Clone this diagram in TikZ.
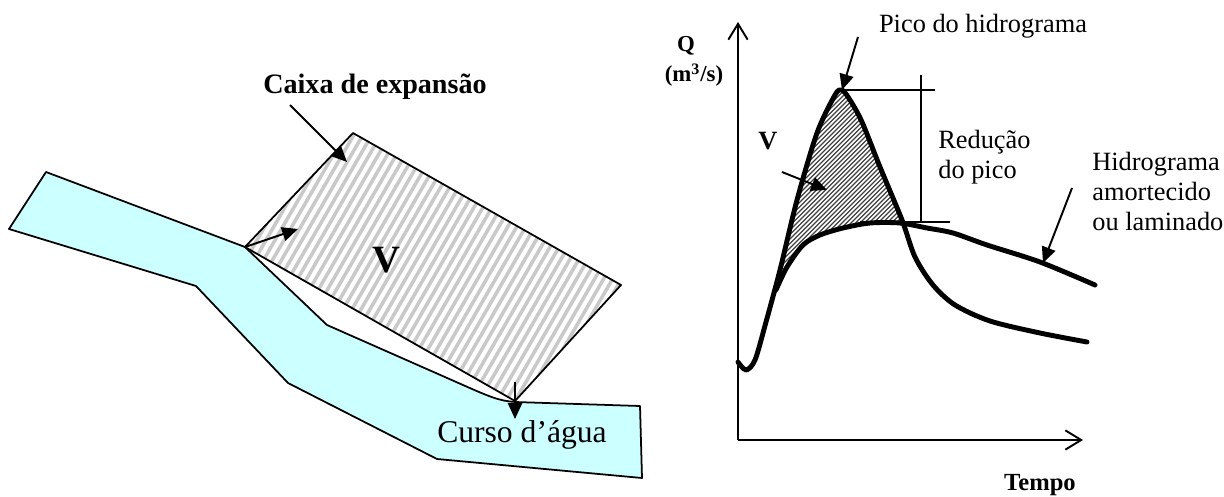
\documentclass[tikz,border=0pt]{standalone}
\usepackage{fontspec}
\setmainfont{Liberation Serif}
\usetikzlibrary{arrows.meta}
\definecolor{agua}{HTML}{CCFFFF}

\begin{document}
\begin{tikzpicture}[
    x=0.02cm, y=-0.02cm,
    texto/.style={font=\fontsize{15}{17}\selectfont, inner sep=0pt},
    negrito/.style={font=\fontsize{15}{17}\selectfont\bfseries, inner sep=0pt},
    contorno/.style={line width=1pt, line join=round},
    seta/.style={line width=1.1pt, -{Triangle[length=9pt,width=8pt]}},
    eixo/.style={line width=1.1pt, -{Straight Barb[length=9pt,width=11pt]}},
    curva/.style={line width=2.8pt, line cap=round, line join=round},
    guia/.style={line width=1.1pt},
    listra/.style={line width=2pt, gray!42},
    traco/.style={line width=0.7pt, black!75}]

  \useasboundingbox (0,0) rectangle (1224,497);

  % ---- curso d'agua --------------------------------------------------------
  \filldraw[contorno, fill=agua] (46,172) -- (245,247) -- (327,325) -- (463,385)
       .. controls (490,397) and (500,401) .. (515,402) -- (640,406)
       -- (642,478) -- (437,459) -- (288,383) -- (196,286) -- (9,229) -- cycle;

  % ---- caixa de expansao, com listras cinzentas ----------------------------
  \coordinate (L) at (245,247);
  \coordinate (T) at (353,133);
  \coordinate (R) at (621,285);
  \coordinate (B) at (515,401);
  \begin{scope}
    \clip (L) -- (T) -- (R) -- (B) -- cycle;
    \foreach \i in {0,9,...,640}
      \draw[listra] (\i,420) -- ++(240,-415);
  \end{scope}
  \draw[contorno] (L) -- (T) -- (R) -- (B) -- cycle;

  \node[negrito, font=\fontsize{16}{18}\selectfont\bfseries, anchor=base]
       (caixa) at (375,93) {Caixa de expansão};
  \coordinate (caixaini) at (290,105);
  \coordinate (caixafim) at (347,162);
  \draw[seta] (caixaini) -- (caixafim);

  \node[negrito, font=\fontsize{22}{24}\selectfont\bfseries] (vcaixa) at (386,260) {V};
  \coordinate (entrada) at (298,229);
  \draw[seta] (L) -- (entrada);

  \coordinate (saidaini) at (515,382);
  \coordinate (saidafim) at (515,419);
  \draw[seta] (saidaini) -- (saidafim);
  \node[texto, font=\fontsize{18}{20}\selectfont, anchor=base]
       (curso) at (522,442) {Curso d’água};

  % ---- eixos do hidrograma -------------------------------------------------
  \coordinate (O)     at (738,440);
  \coordinate (Qtopo) at (738,22);
  \coordinate (Tfim)  at (1083,440);
  \draw[eixo] (O) -- (Qtopo);
  \draw[eixo] (O) -- (Tfim);
  \node[negrito, font=\fontsize{13}{15}\selectfont\bfseries] (Q) at (686,46) {Q};
  \node[negrito, font=\fontsize{13}{15}\selectfont\bfseries]
       (unid) at (694,75) {(m\textsuperscript{3}/s)};
  \node[negrito, font=\fontsize{14}{16}\selectfont\bfseries, anchor=base]
       (tempo) at (1040,490) {Tempo};

  % ---- volume armazenado (tracejado escuro) --------------------------------
  \begin{scope}
    \clip plot[smooth] coordinates {(783,262) (797,200) (817,133) (835,95)
          (842,90) (850,100) (862,122) (880,167) (902,222)}
          -- plot[smooth] coordinates {(900,223) (870,223) (843,228)
          (820,235) (803,245) (787,267)} -- cycle;
    \foreach \i in {630,634.5,...,830}
      \draw[traco] (\i,300) -- ++(220,-220);
  \end{scope}

  % ---- hidrogramas ---------------------------------------------------------
  \draw[curva] plot[smooth] coordinates {(738,362) (746,370) (755,360)
        (766,322) (780,270) (797,200) (817,133) (835,95) (842,90) (850,100)
        (862,122) (880,167) (902,220) (915,257) (933,285) (955,305)
        (990,321) (1040,333) (1087,342)};
  \draw[curva] plot[smooth] coordinates {(776,290) (787,267) (803,245)
        (820,235) (843,228) (870,223) (900,223) (927,228) (953,233)
        (987,245) (1040,262) (1095,285)};

  % ---- reducao do pico -----------------------------------------------------
  \coordinate (pico)    at (842,90);
  \coordinate (picodir) at (935,90);
  \coordinate (redtopo) at (921,75);
  \coordinate (redbase) at (921,222);
  \coordinate (cruzesq) at (860,222);
  \coordinate (cruzdir) at (950,222);
  \draw[guia] (pico) -- (picodir);
  \draw[guia] (redtopo) -- (redbase);
  \draw[guia] (cruzesq) -- (cruzdir);

  % ---- rotulos -------------------------------------------------------------
  \node[texto, anchor=base] (picolbl) at (983,32) {Pico do hidrograma};
  \coordinate (picoini) at (858,37);
  \draw[seta] (picoini) -- (pico);

  \node[texto, anchor=base west, align=left]
       (reducao) at (938,178) {Redução\\do pico};

  \node[negrito] (vhidro) at (768,141) {V};
  \coordinate (vini) at (782,172);
  \coordinate (vfim) at (827,190);
  \draw[seta] (vini) -- (vfim);

  \node[texto, anchor=base west, align=left]
       (amortecido) at (1092,230) {Hidrograma\\amortecido\\ou laminado};
  \coordinate (amortini) at (1072,188);
  \coordinate (amortfim) at (1043,263);
  \draw[seta] (amortini) -- (amortfim);

\end{tikzpicture}
\end{document}
